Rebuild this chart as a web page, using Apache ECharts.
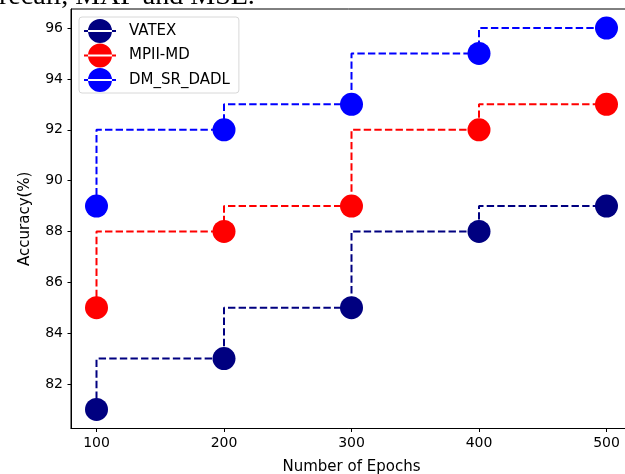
<!DOCTYPE html>
<html>
<head>
<meta charset="utf-8">
<script src="https://cdn.jsdelivr.net/npm/echarts@6/dist/echarts.min.js"></script>
<style>html,body{margin:0;padding:0;background:#fff}#c{width:625px;height:474px}</style>
</head>
<body>
<div id="c"></div>
<script>
const epochs = [100, 200, 300, 400, 500];
const vatex = [81, 83, 85, 88, 89];
const mpiiMd = [85, 88, 89, 92, 93];
const dmSrDadl = [89, 92, 93, 95, 96];
const xTicks = [100, 200, 300, 400, 500];
const yTicks = [82, 84, 86, 88, 90, 92, 94, 96];

const seriesDefs = [
  {name: 'VATEX', values: vatex, color: '#000080'},
  {name: 'MPII-MD', values: mpiiMd, color: '#ff0000'},
  {name: 'DM_SR_DADL', values: dmSrDadl, color: '#0000ff'}
];
const FONT = 'DejaVu Sans';
const legendIcon = 'path://M0,11h32v2H0z M4,12a12,12 0 1,0 24,0a12,12 0 1,0 -24,0z';

const chart = echarts.init(document.getElementById('c'), null, {renderer: 'canvas'});
chart.setOption({
  animation: false,
  backgroundColor: '#fff',
  graphic: [{
    type: 'text', left: -1, top: -17,
    style: {text: 'recall, MAP and MSE.', font: '28px "Liberation Serif"', fill: '#000'}
  }],
  grid: {left: 71, top: 9, width: 561, height: 419.5, outerBoundsMode: 'none', containLabel: false,
         show: true, borderColor: '#000', borderWidth: 1, backgroundColor: 'transparent'},
  legend: {
    orient: 'vertical', left: 79, top: 17,
    padding: [2, 9, 1, 5], itemGap: 0.5,
    itemWidth: 32, itemHeight: 24, icon: legendIcon,
    backgroundColor: '#fff', borderColor: '#d8d8d8', borderWidth: 1, borderRadius: 3,
    textStyle: {fontFamily: FONT, fontSize: 15, color: '#000', padding: [0, 0, 0, 8]},
    data: seriesDefs.map(s => s.name)
  },
  xAxis: {
    type: 'value', min: 80, max: 520,
    name: 'Number of Epochs', nameLocation: 'middle', nameGap: 31,
    nameTextStyle: {fontFamily: FONT, fontSize: 15, color: '#000'},
    axisLine: {show: true, lineStyle: {color: '#000', width: 1}},
    axisTick: {show: true, inside: false, length: 3.5, lineStyle: {color: '#000'}, customValues: xTicks},
    axisLabel: {fontFamily: FONT, fontSize: 14, color: '#000', margin: 8, customValues: xTicks},
    splitLine: {show: false}
  },
  yAxis: {
    type: 'value', min: 80.25, max: 96.75,
    name: 'Accuracy(%)', nameLocation: 'middle', nameGap: 38, nameRotate: 90,
    nameTextStyle: {fontFamily: FONT, fontSize: 15, color: '#000'},
    axisLine: {show: true, lineStyle: {color: '#000', width: 1}},
    axisTick: {show: true, inside: false, length: 3.5, lineStyle: {color: '#000'}, customValues: yTicks},
    axisLabel: {fontFamily: FONT, fontSize: 14, color: '#000', margin: 8, customValues: yTicks},
    splitLine: {show: false}
  },
  series: seriesDefs.map(s => ({
    name: s.name, type: 'line', step: 'start',
    data: epochs.map((x, i) => [x, s.values[i]]),
    symbol: 'circle', symbolSize: 23,
    itemStyle: {color: s.color},
    lineStyle: {color: s.color, width: 2, type: [7.4, 3.2]},
    emphasis: {disabled: true}
  }))
});
</script>
</body>
</html>
